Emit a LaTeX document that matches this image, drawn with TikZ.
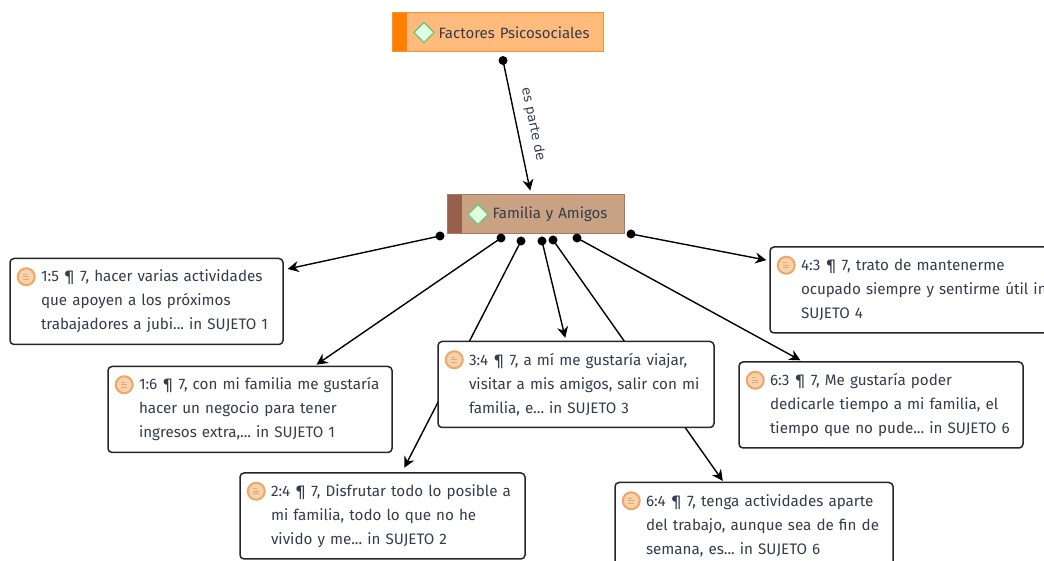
\documentclass[tikz,border=0pt]{standalone}
\usepackage{fontspec}
\setmainfont{Fira Sans}
\newfontfamily\edgefont{DejaVu Sans}
\usetikzlibrary{shapes, arrows.meta, backgrounds}
\definecolor{textInk}{HTML}{333D4C}
\definecolor{iconRing}{HTML}{EDA868}
\definecolor{iconFill}{HTML}{F6D3AE}
\definecolor{familiaFill}{HTML}{C9A284}
\definecolor{familiaDark}{HTML}{96604B}
\definecolor{factoresFill}{HTML}{FFBB7C}
\definecolor{factoresDark}{HTML}{FF7F00}
\tikzstyle{conceptBox} = [rectangle,
                          minimum height=39pt,
                          inner xsep=0pt,
                          align=left,
                          text=textInk,
                          line width=1pt,
                          font=\fontsize{15}{18}\selectfont]
\tikzstyle{quoteBox}   = [rectangle,
                          rounded corners=4pt,
                          minimum height=86pt,
                          inner xsep=10pt,
                          inner ysep=0pt,
                          align=left,
                          text=textInk,
                          draw=black!85,
                          line width=1.5pt,
                          fill=white,
                          execute at begin node={\frenchspacing\leftskip=21pt},
                          font=\fontsize{15.2}{24}\selectfont]
\tikzstyle{diamondIcon} = [diamond, minimum size=21pt, inner sep=0pt, line width=1.4pt,
                           draw=green!50!black!50, fill=green!12]
\tikzstyle{ringIcon}   = [circle, minimum size=17pt, inner sep=0pt, line width=2pt,
                          draw=iconRing, fill=iconFill]
\tikzstyle{dot}        = [circle, fill=black, minimum size=9pt, inner sep=0pt]
\tikzstyle{arrow}      = [line width=1.4pt, -{Stealth[length=11pt,width=11pt]}]
\begin{document}
\begin{tikzpicture}
        \useasboundingbox (0,0) rectangle (1044pt,561pt);

        \node [conceptBox, text width=177pt, draw=familiaDark!85, fill=familiaFill,
               execute at begin node={\leftskip=45pt},
               path picture={\fill [familiaDark] (path picture bounding box.north west)
                   rectangle ([xshift=14pt] path picture bounding box.south west);}]
               (familia) at (536pt,346.5pt) {Familia y Amigos};
        \node [conceptBox, text width=211pt, draw=factoresDark!85, fill=factoresFill,
               execute at begin node={\leftskip=46pt},
               path picture={\fill [factoresDark] (path picture bounding box.north west)
                   rectangle ([xshift=14pt] path picture bounding box.south west);}]
               (factores) at ([shift={(-38pt,182pt)}] familia) {Factores Psicosociales};

        \node [quoteBox, text width=253pt] (q15) at ([shift={(-389.5pt,-87pt)}] familia) {
            1:5 ¶ 7, hacer varias actividades \\ que apoyen a los próximos \\ trabajadores a jubi... in SUJETO 1};
        \node [quoteBox, text width=264pt] (q16) at ([shift={(-286pt,-195pt)}] familia) {
            1:6 ¶ 7, con mi familia me gustaría \\ hacer un negocio para tener \\ ingresos extra,... in SUJETO 1};
        \node [quoteBox, text width=256pt] (q34) at ([shift={(40pt,-170pt)}] familia) {
            3:4 ¶ 7, a mí me gustaría viajar, \\ visitar a mis amigos, salir con mi \\ familia, e... in SUJETO 3};
        \node [quoteBox, text width=265pt] (q24) at ([shift={(-153.5pt,-301.5pt)}] familia) {
            2:4 ¶ 7, Disfrutar todo lo posible a \\ mi familia, todo lo que no he \\ vivido y me... in SUJETO 2};
        \node [quoteBox, text width=258pt] (q64) at ([shift={(218pt,-311pt)}] familia) {
            6:4 ¶ 7, tenga actividades aparte \\ del trabajo, aunque sea de fin de \\ semana, es... in SUJETO 6};
        \node [quoteBox, text width=264pt] (q63) at ([shift={(345pt,-190.5pt)}] familia) {
            6:3 ¶ 7, Me gustaría poder \\ dedicarle tiempo a mi familia, el \\ tiempo que no pude... in SUJETO 6};
        \node [quoteBox, text width=280pt] (q43) at ([shift={(384pt,-75.5pt)}] familia) {
            4:3 ¶ 7, trato de mantenerme \\ ocupado siempre y sentirme útil in \\ SUJETO 4};

        \node [diamondIcon] (iconFactores) at ([xshift=32pt] factores.west) {};
        \node [diamondIcon] (iconFamilia)  at ([xshift=31pt] familia.west) {};

        % quotation icons
        \foreach \q in {q15,q16,q34,q24,q64,q63,q43} {
            \node [ringIcon] (icon\q) at ([shift={(17pt,-19pt)}] \q.north west) {};
            \draw [iconRing, line width=1pt] ([shift={(-3pt,2.5pt)}] icon\q.center) -- ++(4pt,0)
                  ([shift={(-3pt,0pt)}] icon\q.center) -- ++(6pt,0)
                  ([shift={(-3pt,-2.5pt)}] icon\q.center) -- ++(6pt,0);
        }

        \node [dot] (dotTop)  at ([shift={(5pt,-28pt)}] factores) {};
        \node [dot] (dotA)    at ([shift={(-96pt,-21.5pt)}] familia) {};
        \node [dot] (dotB)    at ([shift={(-35pt,-23.5pt)}] familia) {};
        \node [dot] (dotC)    at ([shift={(-15pt,-26.5pt)}] familia) {};
        \node [dot] (dotD)    at ([shift={(6pt,-26.5pt)}] familia) {};
        \node [dot] (dotE)    at ([shift={(17pt,-25.5pt)}] familia) {};
        \node [dot] (dotF)    at ([shift={(41pt,-23.5pt)}] familia) {};
        \node [dot] (dotG)    at ([shift={(95pt,-19.5pt)}] familia) {};

        \begin{scope}[on background layer]
            \draw [arrow, shorten >=4pt] (dotTop.center) -- (familia.104.9)
                node (esParte) [midway, above=6pt, sloped, text=textInk,
                                font=\fontsize{13}{15}\selectfont\edgefont] {es parte de};
            \draw [arrow, shorten >=4pt] (dotA.center) -- (q15.13.2);
            \draw [arrow, shorten >=2pt] (dotB.center) -- (q16.34.5);
            \draw [arrow, shorten >=5pt] (dotC.center) -- (q24.66);
            \draw [arrow, shorten >=3pt] (dotD.center) -- (q34.103.5);
            \draw [arrow, shorten >=1pt] (dotE.center) -- (q64.125.8);
            \draw [arrow, shorten >=2pt] (dotF.center) -- (q63.151.4);
            \draw [arrow, shorten >=3pt] (dotG.center) -- (q43.169.4);
        \end{scope}

    \end{tikzpicture}
\end{document}
